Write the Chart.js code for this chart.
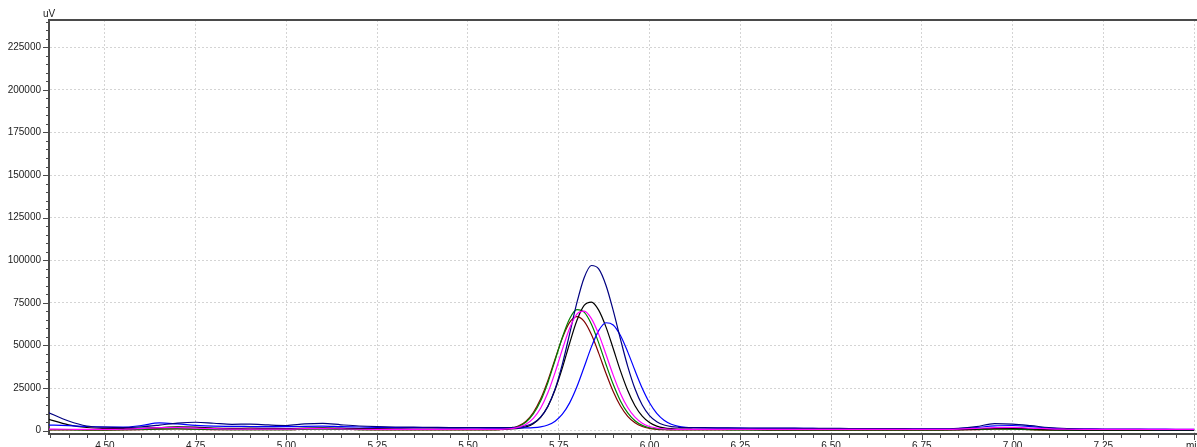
<!DOCTYPE html>
<html>
<head>
<meta charset="utf-8">
<script src="https://cdn.jsdelivr.net/npm/chart.js@4.4.0/dist/chart.umd.min.js"></script>
<style>
  html, body { margin: 0; padding: 0; background: #fff; }
  #wrap { width: 1197px; height: 447px; position: relative; }
</style>
</head>
<body>
<div id="wrap"><canvas id="chrom"></canvas></div>
<script>
// retention time, min
var times = [
    4.34, 4.40, 4.45, 4.50, 4.55, 4.60, 4.65, 4.70, 4.75, 4.80, 4.85, 4.90, 4.95,
    5.00, 5.05, 5.10, 5.15, 5.20, 5.25, 5.30, 5.35, 5.40, 5.45, 5.50, 5.55, 5.60,
    5.62, 5.64, 5.66, 5.68, 5.70, 5.72, 5.74, 5.76, 5.78, 5.80, 5.82, 5.84, 5.86,
    5.88, 5.90, 5.92, 5.94, 5.96, 5.98, 6.00, 6.02, 6.04, 6.06, 6.08, 6.10, 6.12,
    6.15, 6.20, 6.25, 6.30, 6.35, 6.40, 6.45, 6.50, 6.55, 6.60, 6.65, 6.70, 6.75,
    6.80, 6.85, 6.90, 6.95, 7.00, 7.05, 7.10, 7.15, 7.20, 7.25, 7.30, 7.35, 7.40,
    7.45, 7.50
];

// detector response, uV
var run1 = [
    11000, 5600, 2700, 2000, 1800, 2200, 3200, 4400, 4900, 4300, 3700, 3800, 3300,
    3000, 3900, 4200, 3400, 2700, 2300, 2100, 2000, 1900, 1800, 1800, 1700, 1740,
    1830, 2100, 2820, 4470, 7900, 14210, 24460, 39010, 56820, 75080, 89740, 96890, 94910,
    85350, 70560, 53680, 37690, 24550, 15010, 8810, 5190, 3270, 2340, 1940, 1780, 1730,
    1700, 1600, 1500, 1500, 1400, 1400, 1300, 1300, 1200, 1200, 1100, 1100, 1000,
    1000, 1300, 2300, 4100, 3800, 2900, 1800, 1200, 900, 800, 700, 700, 600,
    600, 600
];
var run2 = [
    3300, 2900, 2400, 2100, 2000, 3000, 4500, 3900, 3100, 2600, 2500, 2400, 2300,
    2300, 2500, 2600, 2300, 2100, 1900, 1800, 1700, 1700, 1600, 1600, 1500, 1500,
    1510, 1530, 1590, 1760, 2230, 3300, 5520, 9620, 16280, 25720, 37290, 49140, 58660,
    63300, 62010, 55810, 46200, 35250, 24870, 16340, 10140, 6110, 3760, 2520, 1920, 1660,
    1530, 1450, 1400, 1350, 1300, 1300, 1250, 1200, 1200, 1150, 1100, 1100, 1050,
    1050, 1200, 1800, 2800, 3000, 2300, 1500, 1100, 1000, 900, 900, 850, 850,
    800, 800
];
var run3 = [
    7000, 3400, 1800, 1200, 1100, 1300, 1800, 2200, 2000, 1500, 1300, 1400, 1300,
    1200, 1500, 1600, 1400, 1200, 1100, 1000, 900, 900, 900, 800, 800, 860,
    980, 1330, 2190, 4080, 7790, 14190, 23930, 36790, 51270, 64580, 73450, 75400, 70720,
    60890, 48170, 35040, 23510, 14610, 8500, 4740, 2650, 1590, 1110, 910, 840, 800,
    750, 700, 650, 600, 600, 550, 550, 500, 500, 500, 500, 500, 500,
    500, 600, 900, 1300, 1300, 1000, 600, 400, 300, 300, 300, 300, 300,
    300, 300
];
var run4 = [
    900, 800, 700, 700, 800, 1200, 1700, 1800, 1500, 1100, 900, 900, 900,
    900, 1100, 1200, 1000, 800, 700, 700, 700, 700, 700, 700, 700, 870,
    1200, 2000, 3760, 7200, 13160, 22220, 34190, 47660, 60050, 68300, 70110, 65760, 56610,
    44780, 32560, 21830, 13550, 7860, 4370, 2420, 1440, 990, 800, 740, 700, 700,
    750, 750, 750, 750, 750, 700, 700, 700, 700, 700, 700, 700, 700,
    700, 900, 1300, 1800, 1900, 1500, 1000, 800, 700, 700, 700, 700, 700,
    700, 700
];
var run5 = [
    500, 500, 400, 400, 500, 700, 1000, 1100, 900, 700, 600, 600, 600,
    600, 800, 900, 700, 600, 500, 500, 500, 500, 500, 500, 500, 800,
    1330, 2550, 5090, 9760, 17350, 28120, 41310, 54830, 65680, 70970, 69500, 62430, 51480,
    38980, 27150, 17420, 10360, 5760, 3080, 1660, 980, 680, 560, 520, 500, 500,
    500, 500, 450, 450, 400, 400, 400, 400, 400, 400, 400, 400, 400,
    400, 500, 700, 1000, 900, 600, 400, 300, 300, 300, 300, 300, 300,
    300, 300
];
var run6 = [
    400, 400, 300, 300, 400, 600, 900, 1000, 800, 600, 500, 500, 500,
    500, 900, 1200, 800, 500, 400, 400, 400, 400, 400, 400, 420, 770,
    1380, 2780, 5590, 10620, 18510, 29330, 42040, 54400, 63530, 66900, 64090, 56330, 45460,
    33690, 22950, 14420, 8390, 4580, 2400, 1280, 760, 530, 450, 410, 400, 400,
    400, 400, 350, 350, 300, 300, 300, 300, 300, 300, 300, 300, 300,
    300, 400, 600, 900, 800, 500, 300, 300, 300, 300, 300, 300, 300,
    300, 300
];

var xMin = 4.346, xMax = 7.508;
var yMin = -2000, yMax = 241000;
var xStep = 0.05, xMajor = 0.25;
var yStep = 5000, yMajor = 25000;

var axisColor = '#4a4a4a';
var gridColor = '#d4d4d4';
var textColor = '#222';

function isMajorX(v) {
    var r = v / xMajor;
    return Math.abs(r - Math.round(r)) < 1e-6;
}
function isMajorY(v) {
    return Math.round(v) % yMajor === 0;
}

// every step inside the range, minor and major alike
function stepTicks(min, max, step) {
    var out = [];
    for (var k = Math.ceil(min / step - 1e-9); k * step <= max + 1e-9; k++) {
        out.push({ value: Math.round(k * step * 1000) / 1000 });
    }
    return out;
}

// first entry is drawn on top
var traces = [
    { label: 'Run 4', values: run4, color: '#ff00ff' },
    { label: 'Run 1', values: run1, color: '#000080' },
    { label: 'Run 2', values: run2, color: '#0000ff' },
    { label: 'Run 3', values: run3, color: '#000000' },
    { label: 'Run 5', values: run5, color: '#008000' },
    { label: 'Run 6', values: run6, color: '#800000' }
];

var datasets = traces.map(function (t) {
    return {
        label: t.label,
        data: times.map(function (x, i) { return { x: x, y: t.values[i] }; }),
        borderColor: t.color,
        borderWidth: 1.2,
        pointRadius: 0,
        fill: false,
        cubicInterpolationMode: 'monotone'
    };
});

// tick marks, top frame line and unit label
var axisDecor = {
    id: 'axisDecor',
    afterDraw: function (chart) {
        var ctx = chart.ctx, area = chart.chartArea;
        var xs = chart.scales.x, ys = chart.scales.y;
        ctx.save();
        ctx.strokeStyle = axisColor;
        ctx.lineWidth = 1;
        ctx.beginPath();
        ys.ticks.forEach(function (t) {
            var py = Math.round(ys.getPixelForValue(t.value)) + 0.5;
            var len = isMajorY(t.value) ? 6 : 3;
            ctx.moveTo(area.left - len, py);
            ctx.lineTo(area.left, py);
        });
        xs.ticks.forEach(function (t) {
            var px = Math.round(xs.getPixelForValue(t.value)) + 0.5;
            var len = isMajorX(t.value) ? 6 : 4;
            ctx.moveTo(px, area.bottom);
            ctx.lineTo(px, area.bottom + len);
        });
        ctx.stroke();

        ctx.lineWidth = 2;
        ctx.beginPath();
        ctx.moveTo(area.left, area.top);
        ctx.lineTo(area.right, area.top);
        ctx.stroke();

        ctx.fillStyle = textColor;
        ctx.font = '10px "Liberation Sans", Arial, sans-serif';
        ctx.textAlign = 'center';
        ctx.textBaseline = 'bottom';
        ctx.fillText('uV', area.left, area.top - 1);
        ctx.restore();
    }
};

Chart.defaults.font.family = '"Liberation Sans", Arial, sans-serif';
Chart.defaults.font.size = 10;
Chart.defaults.color = textColor;

new Chart(document.getElementById('chrom'), {
    type: 'line',
    data: { datasets: datasets },
    plugins: [axisDecor],
    options: {
        responsive: true,
        maintainAspectRatio: false,
        animation: false,
        layout: { padding: { top: 20, right: 0, bottom: 0, left: 0 } },
        plugins: {
            legend: { display: false },
            tooltip: { enabled: false }
        },
        scales: {
            x: {
                type: 'linear',
                min: xMin,
                max: xMax,
                afterBuildTicks: function (scale) {
                    scale.ticks = stepTicks(xMin, xMax, xStep);
                },
                afterFit: function (scale) {
                    scale.height = 13;
                    scale.paddingLeft = 0;
                    scale.paddingRight = 0;
                },
                ticks: {
                    autoSkip: false,
                    maxRotation: 0,
                    minRotation: 0,
                    padding: 6,
                    callback: function (v) {
                        if (!isMajorX(v)) return '';
                        if (Math.abs(v - 7.5) < 1e-6) return 'min';
                        return v.toFixed(2);
                    }
                },
                grid: {
                    drawTicks: false,
                    color: function (c) {
                        return c.tick && isMajorX(c.tick.value) ? gridColor : 'transparent';
                    }
                },
                border: { display: true, color: axisColor, width: 2, dash: [2, 2] }
            },
            y: {
                type: 'linear',
                min: yMin,
                max: yMax,
                afterBuildTicks: function (scale) {
                    scale.ticks = stepTicks(yMin, yMax, yStep);
                },
                afterFit: function (scale) {
                    scale.width = 49;
                    scale.paddingTop = 0;
                    scale.paddingBottom = 0;
                },
                ticks: {
                    autoSkip: false,
                    padding: 8,
                    callback: function (v) {
                        return isMajorY(v) ? String(v) : '';
                    }
                },
                grid: {
                    drawTicks: false,
                    color: function (c) {
                        return c.tick && isMajorY(c.tick.value) ? gridColor : 'transparent';
                    }
                },
                border: { display: true, color: axisColor, width: 2, dash: [2, 2] }
            }
        }
    }
});
</script>
</body>
</html>
